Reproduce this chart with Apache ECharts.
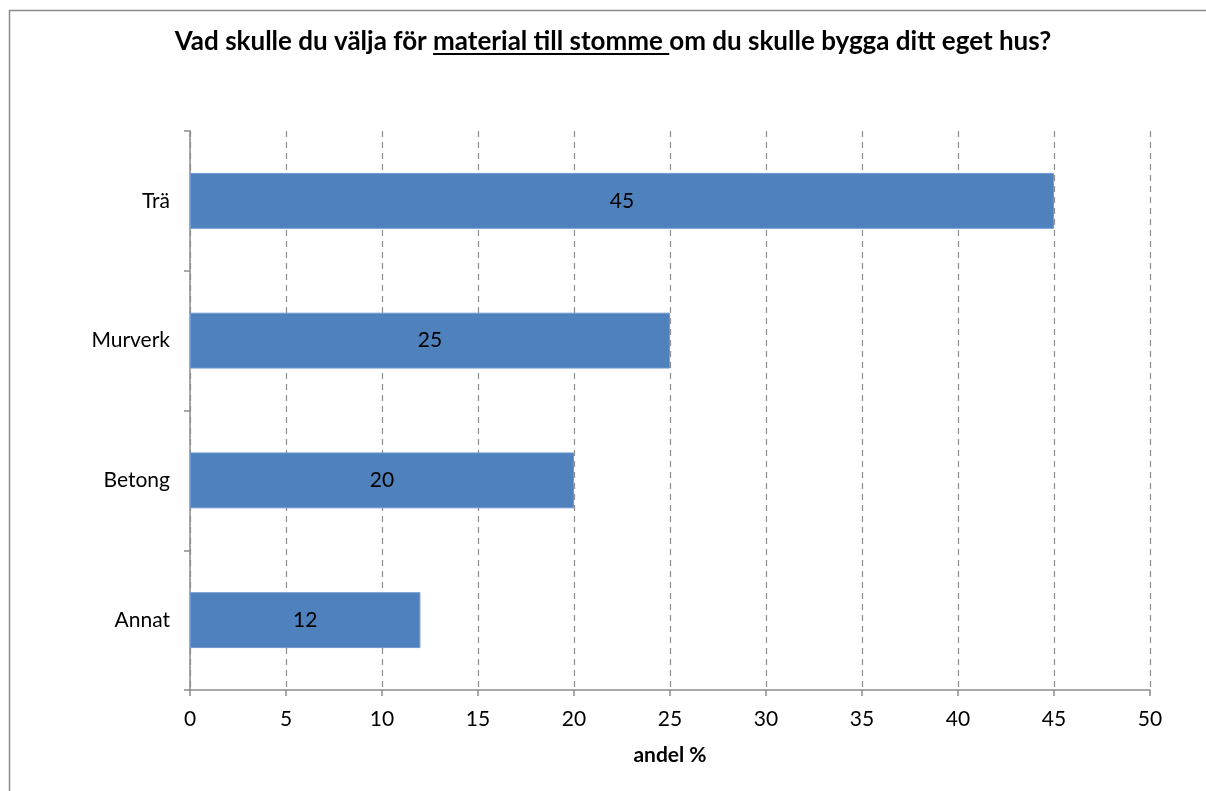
<!DOCTYPE html>
<html>
<head>
<meta charset="utf-8">
<script src="https://cdn.jsdelivr.net/npm/echarts@6/dist/echarts.min.js"></script>
<style>
html,body{margin:0;padding:0;background:#fff;}
#chart{width:1206px;height:791px;}
</style>
</head>
<body>
<div id="chart"></div>
<script>
const categories = ['Trä', 'Murverk', 'Betong', 'Annat'];
const values = [45, 25, 20, 12];
const xTicks = { min: 0, max: 50, interval: 5 };
const titleParts = ['Vad skulle du välja för ', 'material till stomme ', 'om du skulle bygga ditt eget hus?'];
const axisName = 'andel %';

const FONT = 'Lato';
const titleSize = 26;
const titleCenterX = 613;
const titleTop = 29;

// measure title parts to place underline
const cv = document.createElement('canvas').getContext('2d');
cv.font = 'bold ' + titleSize + 'px ' + FONT;
const w = titleParts.map(t => cv.measureText(t).width);
const total = w[0] + w[1] + w[2];
const titleLeft = titleCenterX - total / 2;
const ulX1 = titleLeft + w[0];
const ulX2 = ulX1 + cv.measureText(titleParts[1]).width;
const ulY = titleTop + titleSize - 1;

const chart = echarts.init(document.getElementById('chart'));
chart.setOption({
  backgroundColor: '#fff',
  animation: false,
  title: {
    text: titleParts.join(''),
    left: titleLeft,
    top: titleTop,
    padding: 0,
    textStyle: { fontFamily: FONT, fontWeight: 'bold', fontSize: titleSize, color: '#000' }
  },
  graphic: [
    { type: 'rect', shape: { x: 9.5, y: 10.5, width: 1210, height: 800 }, style: { fill: 'none', stroke: '#8c8c8c', lineWidth: 1.5 }, z: -1 },
    { type: 'line', shape: { x1: ulX1, y1: ulY, x2: ulX2, y2: ulY }, style: { stroke: '#000', lineWidth: 2 } }
  ],
  grid: { left: 190, right: 56, top: 131, bottom: 101 },
  xAxis: {
    type: 'value',
    min: xTicks.min, max: xTicks.max, interval: xTicks.interval,
    name: axisName,
    nameLocation: 'middle',
    nameGap: 55,
    nameTextStyle: { fontFamily: FONT, fontWeight: 'bold', fontSize: 21, color: '#000' },
    axisLine: { show: true, lineStyle: { color: '#8c8c8c', width: 1.5 } },
    axisTick: { show: true, length: 6, lineStyle: { color: '#8c8c8c', width: 1.5 } },
    axisLabel: { fontFamily: FONT, fontSize: 21, color: '#000', margin: 19 },
    splitLine: { show: true, lineStyle: { color: '#8c8c8c', type: [6, 5], width: 1.2 } }
  },
  yAxis: {
    type: 'category',
    data: categories,
    inverse: true,
    axisLine: { show: true, lineStyle: { color: '#8c8c8c', width: 1.5 } },
    axisTick: { show: true, length: 6, alignWithLabel: false, lineStyle: { color: '#8c8c8c', width: 1.5 } },
    axisLabel: { fontFamily: FONT, fontSize: 21, color: '#000', margin: 20 },
    splitLine: { show: false }
  },
  series: [{
    type: 'bar',
    data: values,
    barCategoryGap: '60%',
    itemStyle: { color: '#4F81BD', borderColor: '#6E9AD0', borderWidth: 1 },
    label: { show: true, position: 'inside', fontFamily: FONT, fontSize: 21, color: '#000' }
  }]
});
</script>
</body>
</html>
